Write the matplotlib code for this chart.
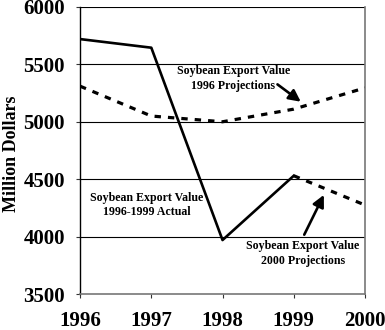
import matplotlib.pyplot as plt

years = [1996, 1997, 1998, 1999, 2000]
actual_years = [1996, 1997, 1998, 1999]
actual = [5720, 5645, 3970, 4530]
proj_1996 = [5310, 5050, 5000, 5110, 5295]
proj_2000_years = [1999, 2000]
proj_2000 = [4530, 4275]

plt.rcParams['font.family'] = ['Liberation Serif', 'DejaVu Serif']
plt.rcParams['font.weight'] = 'bold'

fig = plt.figure(figsize=(3.85, 3.3), dpi=100)
ax = fig.add_axes([0.208, 0.109, 0.740, 0.870])

ax.plot(actual_years, actual, color="black", linewidth=1.9, zorder=4)
ax.plot(years, proj_1996, color="black", linewidth=2.3, linestyle=(0, (2, 2.2)), zorder=4)
ax.plot(proj_2000_years, proj_2000, color="black", linewidth=2.3, linestyle=(0, (2, 2.2)), zorder=4)

ax.set_xlim(1996, 2000)
ax.set_ylim(3500, 6000)
ax.set_xticks(years)
ax.set_yticks([3500, 4000, 4500, 5000, 5500, 6000])
ax.tick_params(axis="both", labelsize=15, length=3, width=0.8, color="#333333")
ax.tick_params(axis="x", pad=9)
ax.tick_params(axis="y", pad=8)
for lab in ax.get_xticklabels() + ax.get_yticklabels():
    lab.set_fontweight("bold")

for v in [4000, 4500, 5000, 5500, 6000]:
    ax.axhline(v, color="black", linewidth=0.8, zorder=1)

ax.spines["top"].set_visible(False)
ax.spines["left"].set_color("black")
ax.spines["left"].set_linewidth(1.0)
ax.spines["bottom"].set_color("#777777")
ax.spines["bottom"].set_linewidth(1.2)
ax.spines["right"].set_color("#777777")
ax.spines["right"].set_linewidth(1.2)

ax.set_ylabel("Million Dollars", fontsize=13, fontweight="bold")
ax.yaxis.set_label_coords(-0.21, 0.49)

txt = dict(fontsize=8.6, fontweight="bold", ha="center", va="center", linespacing=1.3)
ax.text(1998.15, 5375, "Soybean Export Value\n1996 Projections", **txt)
ax.text(1996.93, 4275, "Soybean Export Value\n1996-1999 Actual", **txt)
ax.text(1999.13, 3855, "Soybean Export Value\n2000 Projections", **txt)

arrow = dict(arrowstyle="-|>,head_length=0.7,head_width=0.35", color="black", lw=1.9)
ax.annotate("", xy=(1999.13, 5160), xytext=(1998.74, 5340), arrowprops=arrow)
ax.annotate("", xy=(1999.44, 4385), xytext=(1999.13, 3995), arrowprops=arrow)

fig.savefig("out.png", dpi=100)
